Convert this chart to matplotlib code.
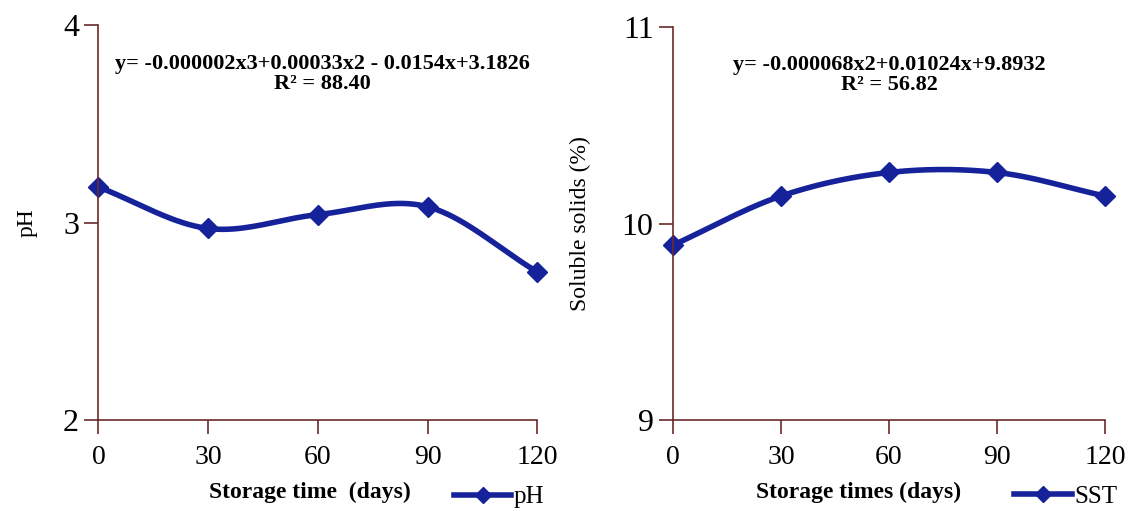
import numpy as np
import matplotlib.pyplot as plt
from matplotlib.lines import Line2D

# data
days = [0, 30, 60, 90, 120]
ph = [3.18, 2.97, 3.04, 3.08, 2.75]
sst = [9.89, 10.14, 10.26, 10.26, 10.14]

ph_eq = "y= -0.000002x3+0.00033x2 - 0.0154x+3.1826\nR² = 88.40"
sst_eq = "y= -0.000068x2+0.01024x+9.8932\nR² = 56.82"

line_col = "#15229a"
axis_col = "#6b2a2a"

plt.rcParams['font.family'] = ['Liberation Serif', 'DejaVu Serif']


def smooth(x, y, n=40):
    # catmull-rom like the "smoothed line" option of spreadsheet charts
    x = np.asarray(x, float)
    y = np.asarray(y, float)
    px = np.concatenate([[2 * x[0] - x[1]], x, [2 * x[-1] - x[-2]]])
    py = np.concatenate([[2 * y[0] - y[1]], y, [2 * y[-1] - y[-2]]])
    xs, ys = [], []
    t = np.linspace(0, 1, n)
    for i in range(1, len(px) - 2):
        for arr, out in ((px, xs), (py, ys)):
            p0, p1, p2, p3 = arr[i - 1], arr[i], arr[i + 1], arr[i + 2]
            out.extend(0.5 * (2 * p1 + (-p0 + p2) * t
                              + (2 * p0 - 5 * p1 + 4 * p2 - p3) * t ** 2
                              + (-p0 + 3 * p1 - 3 * p2 + p3) * t ** 3))
    return xs, ys


def panel(ax, y, ylim, yticks, ylabel, xlabel, eq, name, eq_x, xl_x, leg_x, ypad):
    sx, sy = smooth(days, y)
    ax.plot(sx, sy, color=line_col, lw=4, solid_capstyle='round', clip_on=False)
    ax.plot(days, y, 'D', color=line_col, ms=10, clip_on=False)
    ax.set_xlim(0, 120)
    ax.set_ylim(*ylim)
    ax.set_xticks(days)
    ax.set_yticks(yticks)
    ax.tick_params(axis='both', colors=axis_col, length=10, width=1.2,
                   direction='out', labelcolor='black')
    ax.tick_params(axis='x', labelsize=20, pad=8)
    ax.tick_params(axis='y', labelsize=23, pad=4)
    for s in ['top', 'right']:
        ax.spines[s].set_visible(False)
    for s in ['left', 'bottom']:
        ax.spines[s].set_color(axis_col)
        ax.spines[s].set_linewidth(1.2)
    ax.set_ylabel(ylabel, fontsize=17, labelpad=ypad)
    ax.set_xlabel(xlabel, fontsize=17, fontweight='bold')
    ax.xaxis.label.set_va('center')
    ax.xaxis.set_label_coords(xl_x, -0.183)
    ax.text(eq_x, 0.877, eq, transform=ax.transAxes, ha='center', va='center',
            fontsize=16, fontweight='bold', linespacing=1.0)
    handle = Line2D([], [], color=line_col, lw=4, marker='D', ms=8)
    ax.legend([handle], [name], loc='center left', bbox_to_anchor=(leg_x, -0.195),
              frameon=False, handlelength=2.3, handletextpad=0.1,
              borderpad=0, borderaxespad=0, prop={'size': 18})


fig = plt.figure(figsize=(11.31, 5.11), dpi=100)
ax1 = fig.add_axes([0.087, 0.178, 0.388, 0.773])
ax2 = fig.add_axes([0.595, 0.178, 0.382, 0.769])

panel(ax1, ph, (2, 4), [2, 3, 4], "pH", "Storage time  (days)", ph_eq, "pH",
      0.51, 0.483, 0.81, 18)
panel(ax2, sst, (9, 11), [9, 10, 11], "Soluble solids (%)", "Storage times (days)",
      sst_eq, "SST", 0.5, 0.43, 0.79, 22)

fig.savefig("out.png", dpi=100)
